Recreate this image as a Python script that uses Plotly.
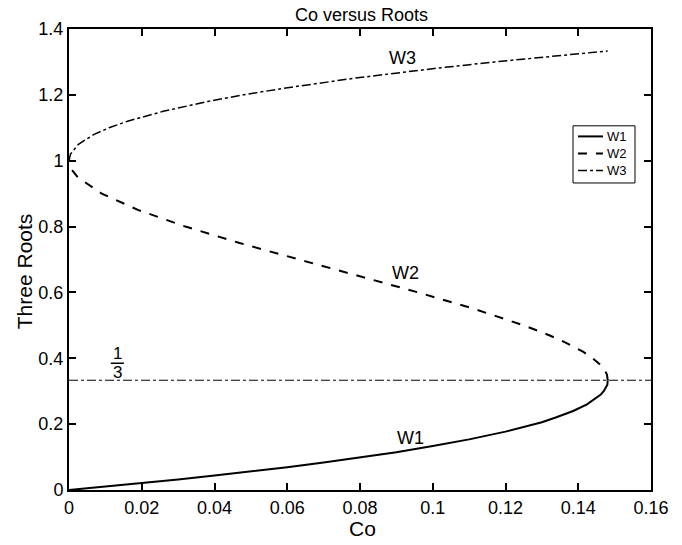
import plotly.graph_objects as go

# W1 branch (Co, root)
w1_co = [0.0, 0.01, 0.02, 0.03, 0.04, 0.05, 0.06, 0.07, 0.08, 0.09, 0.10, 0.11, 0.12, 0.13, 0.1338, 0.1386, 0.1424, 0.145, 0.1462, 0.147, 0.1476, 0.1480, 0.1481]
w1_w = [0.0, 0.0102, 0.0209, 0.032, 0.0437, 0.0561, 0.0693, 0.0834, 0.0985, 0.1149, 0.1335, 0.1537, 0.1773, 0.2058, 0.22, 0.24, 0.26, 0.28, 0.29, 0.30, 0.31, 0.32, 0.3333]

# W2 branch
w2_co = [0.1481, 0.1481, 0.1479, 0.1475, 0.1469, 0.1461, 0.144, 0.1413, 0.1361, 0.132, 0.125, 0.1114, 0.096, 0.0796, 0.063, 0.0469, 0.032, 0.0191, 0.009, 0.0024, 0.0006, 0.0]
w2_w = [0.3333, 0.34, 0.35, 0.36, 0.37, 0.38, 0.40, 0.42, 0.45, 0.47, 0.50, 0.55, 0.60, 0.65, 0.70, 0.75, 0.80, 0.85, 0.90, 0.95, 0.975, 1.0]

# W3 branch
w3_co = [0.0, 0.0001, 0.0004, 0.0026, 0.0069, 0.011, 0.0161, 0.0259, 0.0382, 0.048, 0.059, 0.0781, 0.1004, 0.117, 0.1259, 0.1365, 0.1448, 0.1481]
w3_w = [1.0, 1.01, 1.02, 1.05, 1.08, 1.10, 1.12, 1.15, 1.18, 1.20, 1.22, 1.25, 1.28, 1.30, 1.31, 1.32, 1.33, 1.3333]

third_co = [0.0, 0.16]
third_w = [1/3, 1/3]

x_ticks = [0, 0.02, 0.04, 0.06, 0.08, 0.1, 0.12, 0.14, 0.16]
y_ticks = [0, 0.2, 0.4, 0.6, 0.8, 1, 1.2, 1.4]

legend_names = ["W1", "W2", "W3"]
legend_dash = ["solid", "dash", "dashdot"]

FONT = "Liberation Sans, Arial, Helvetica, sans-serif"

fig = go.Figure()
fig.add_trace(go.Scatter(x=w1_co, y=w1_w, mode="lines", name="W1", showlegend=False,
                         line=dict(color="black", width=2, dash="solid")))
fig.add_trace(go.Scatter(x=w2_co, y=w2_w, mode="lines", name="W2", showlegend=False,
                         line=dict(color="black", width=2, dash="dash")))
fig.add_trace(go.Scatter(x=w3_co, y=w3_w, mode="lines", name="W3", showlegend=False,
                         line=dict(color="black", width=1.5, dash="dashdot")))
fig.add_trace(go.Scatter(x=third_co, y=third_w, mode="lines", showlegend=False,
                         line=dict(color="black", width=1, dash="dashdot")))

annos = [
    dict(x=0.0918, y=1.313, text="W3", size=18),
    dict(x=0.0926, y=0.66, text="W2", size=18),
    dict(x=0.094, y=0.158, text="W1", size=18),
    dict(x=0.0133, y=0.414, text="1", size=17),
    dict(x=0.0133, y=0.356, text="3", size=17),
]
for a in annos:
    fig.add_annotation(x=a["x"], y=a["y"], text=a["text"], showarrow=False,
                       font=dict(family=FONT, size=a["size"], color="black"))
fig.add_shape(type="line", x0=0.0115, x1=0.0151, y0=0.385, y1=0.385,
              line=dict(color="black", width=1.5))

# axis titles placed in plot-area paper coordinates
fig.add_annotation(xref="paper", yref="paper", x=0.505, y=-0.084, text="Co", showarrow=False,
                   xanchor="center", yanchor="middle", font=dict(family=FONT, size=21, color="black"))
fig.add_annotation(xref="paper", yref="paper", x=-0.077, y=0.475, text="Three Roots", showarrow=False,
                   textangle=-90, xanchor="center", yanchor="middle",
                   font=dict(family=FONT, size=21, color="black"))

# compact boxed legend (paper coords of the plot area)
fig.add_shape(type="rect", xref="paper", yref="paper", x0=0.866, x1=0.9725, y0=0.666, y1=0.790,
              line=dict(color="black", width=1), fillcolor="white", layer="above")
row_y = [0.767, 0.730, 0.693]
for dsh, ry in zip(legend_dash, row_y):
    fig.add_shape(type="line", xref="paper", yref="paper", x0=0.8746, x1=0.9175, y0=ry, y1=ry,
                  line=dict(color="black", width=2 if dsh != "dashdot" else 1.5, dash=dsh), layer="above")
fig.add_annotation(xref="paper", yref="paper", x=0.921, y=row_y[1], text="<br>".join(legend_names),
                   showarrow=False, xanchor="left", yanchor="middle", align="left",
                   font=dict(family=FONT, size=13, color="black"))

axis_common = dict(showline=True, linecolor="black", linewidth=2, mirror="ticks",
                   ticks="inside", ticklen=7, tickwidth=1.5, tickcolor="black",
                   showgrid=False, zeroline=False, automargin=False,
                   tickfont=dict(family=FONT, size=18, color="black"))
fig.update_xaxes(range=[0, 0.16], tickvals=x_ticks, ticktext=[str(v) for v in x_ticks],
                 **axis_common)
fig.update_yaxes(range=[0, 1.4], tickvals=y_ticks, ticktext=[str(v) for v in y_ticks],
                 **axis_common)

fig.update_layout(
    width=682, height=545,
    margin=dict(l=69, r=31, t=29, b=55, autoexpand=False),
    paper_bgcolor="white", plot_bgcolor="white",
    title=dict(text="Co versus Roots", x=0.53, xanchor="center", y=0.973, yanchor="middle",
               font=dict(family=FONT, size=18, color="black")),
    showlegend=False,
)

fig.write_html("out.html")
